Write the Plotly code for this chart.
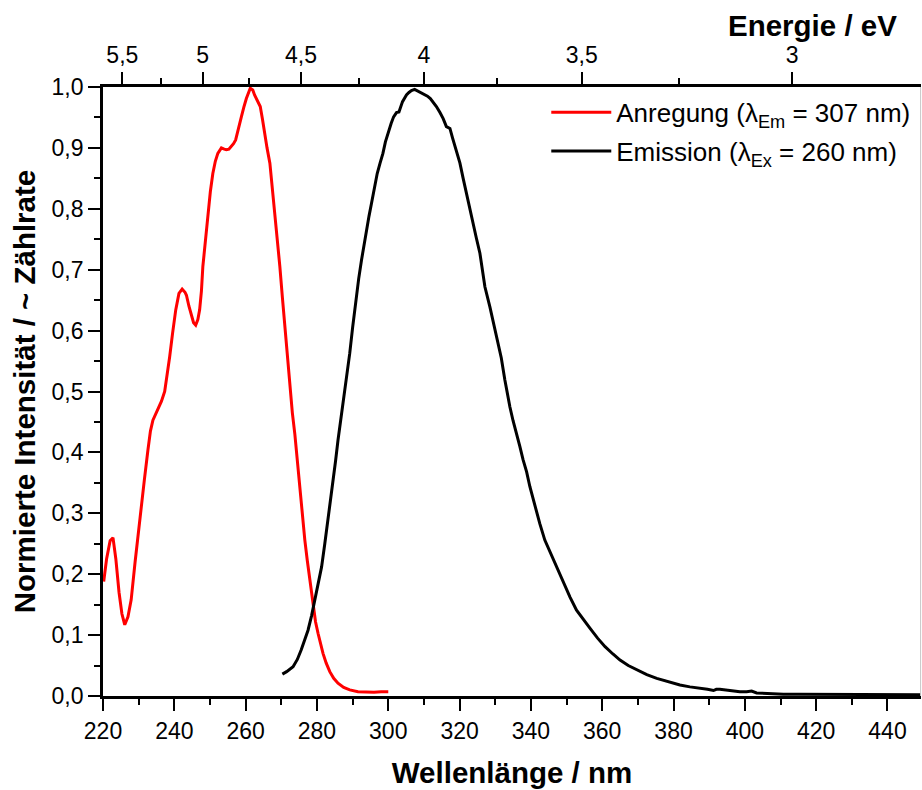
import plotly.graph_objects as go

# ---------------- data ----------------
exc_wl = [220.2, 221.0, 222.0, 222.8, 223.6, 224.5, 225.3, 226.1, 227.0, 227.9, 229.0, 230.0,
          230.7, 231.6, 232.6, 233.3, 234.0, 235.2, 236.4, 237.3, 238.0, 238.7, 239.5, 240.4,
          241.3, 242.2, 243.0, 243.4, 244.1, 244.8, 245.4, 246.0, 246.6, 247.1, 247.6, 248.0,
          248.7, 249.4, 250.1, 250.8, 251.5, 252.2, 253.2, 254.0, 254.6, 255.3, 256.0, 256.6,
          257.2, 258.0, 258.8, 259.5, 260.2, 261.3, 262.0, 262.5, 263.3, 264.1, 264.7, 265.3,
          266.0, 266.8, 267.5, 268.2, 268.9, 269.6, 270.3, 271.0, 271.7, 272.4, 273.1, 273.8,
          274.5, 275.2, 275.9, 276.6, 277.3, 278.0, 278.9, 279.6, 280.3, 281.0, 281.7, 282.6,
          283.6, 284.7, 285.9, 287.5, 289.2, 291.5, 293.9, 296.0, 298.0, 300.0]
exc_int = [0.188, 0.225, 0.255, 0.260, 0.225, 0.170, 0.135, 0.117, 0.130, 0.158, 0.220, 0.275,
           0.305, 0.355, 0.404, 0.435, 0.453, 0.470, 0.484, 0.500, 0.525, 0.557, 0.595, 0.634,
           0.661, 0.668, 0.663, 0.658, 0.640, 0.623, 0.613, 0.609, 0.618, 0.634, 0.665, 0.705,
           0.750, 0.793, 0.828, 0.858, 0.878, 0.891, 0.900, 0.898, 0.897, 0.898, 0.902, 0.907,
           0.913, 0.930, 0.951, 0.967, 0.981, 0.998, 0.995, 0.987, 0.978, 0.968, 0.948, 0.924,
           0.900, 0.875, 0.835, 0.793, 0.750, 0.705, 0.655, 0.606, 0.557, 0.510, 0.465, 0.430,
           0.385, 0.338, 0.295, 0.256, 0.222, 0.190, 0.147, 0.122, 0.103, 0.085, 0.070, 0.054,
           0.040, 0.029, 0.021, 0.014, 0.010, 0.007, 0.006, 0.006, 0.007, 0.007]

em_wl = [270.3, 271.5, 273.3, 274.5, 275.6, 276.6, 277.5, 278.5, 279.4, 280.4, 281.3, 282.2,
         283.1, 283.8, 284.5, 285.2, 285.9, 286.9, 287.5, 288.3, 289.2, 290.0, 290.9, 291.7,
         292.5, 293.2, 293.9, 294.6, 295.3, 296.1, 296.9, 297.7, 298.5, 299.2, 300.0, 300.8,
         301.5, 302.3, 303.0, 303.5, 304.0, 304.6, 305.1, 305.8, 306.5, 307.4, 308.1, 308.8,
         309.4, 310.0, 311.0, 311.8, 312.7, 313.5, 314.5, 315.4, 316.3, 317.3, 318.0, 318.7,
         319.4, 320.1, 321.0, 321.9, 322.8, 323.8, 324.7, 325.7, 326.4, 327.1, 328.5, 329.6,
         330.8, 331.7, 332.7, 333.6, 334.1, 335.0, 336.0, 336.9, 337.8, 338.8, 339.7, 341.1,
         342.5, 343.9, 345.1, 346.3, 347.7, 349.1, 351.0, 352.8, 354.7, 356.6, 358.7, 360.8,
         363.0, 365.0, 367.3, 369.7, 372.5, 375.3, 378.5, 381.8, 384.6, 387.4, 389.5, 391.2,
         392.0, 393.0, 395.8, 398.6, 400.5, 401.9, 403.3, 406.5, 409.4, 410.8, 415.0, 420.0,
         425.0, 430.0, 435.0, 440.0, 445.0, 450.0]
em_int = [0.036, 0.040, 0.048, 0.060, 0.076, 0.092, 0.108, 0.132, 0.158, 0.185, 0.212, 0.250,
          0.289, 0.318, 0.349, 0.385, 0.420, 0.464, 0.489, 0.519, 0.563, 0.605, 0.650, 0.685,
          0.716, 0.742, 0.765, 0.788, 0.809, 0.835, 0.858, 0.875, 0.891, 0.910, 0.927, 0.940,
          0.951, 0.958, 0.959, 0.968, 0.976, 0.982, 0.987, 0.991, 0.994, 0.996, 0.994, 0.992,
          0.990, 0.988, 0.985, 0.981, 0.975, 0.968, 0.958, 0.948, 0.935, 0.932, 0.917, 0.902,
          0.889, 0.875, 0.850, 0.825, 0.800, 0.776, 0.752, 0.727, 0.700, 0.672, 0.639, 0.610,
          0.579, 0.555, 0.519, 0.489, 0.475, 0.452, 0.431, 0.410, 0.388, 0.368, 0.344, 0.311,
          0.283, 0.256, 0.240, 0.223, 0.204, 0.185, 0.162, 0.141, 0.125, 0.111, 0.095, 0.081,
          0.069, 0.059, 0.050, 0.043, 0.035, 0.029, 0.023, 0.018, 0.015, 0.013, 0.011, 0.009,
          0.011, 0.011, 0.009, 0.007, 0.007, 0.008, 0.005, 0.004, 0.004, 0.003, 0.003, 0.003,
          0.003, 0.002, 0.002, 0.002, 0.002, 0.002]

energy_major = [5.5, 5.0, 4.5, 4.0, 3.5, 3.0]
energy_major_labels = ["5,5", "5", "4,5", "4", "3,5", "3"]
energy_minor = [5.25, 4.75, 4.25, 3.75, 3.25]
HC = 1239.84  # eV*nm

x_range = [220, 449.4]
y_range = [0, 1.0]

FONT = "Liberation Sans, Arial, sans-serif"
TITLE_SIZE = 29.5

fig = go.Figure()
fig.add_trace(go.Scatter(x=exc_wl, y=exc_int, mode="lines",
                         line=dict(color="#ff0000", width=3),
                         name="Anregung (λ<sub>Em</sub> = 307 nm)",
                         legendgroup="a"))
fig.add_trace(go.Scatter(x=em_wl, y=em_int, mode="lines",
                         line=dict(color="#000000", width=3),
                         name="Emission (λ<sub>Ex</sub> = 260 nm)",
                         legendgroup="b"))
# invisible trace so that the top (energy) axis is drawn
fig.add_trace(go.Scatter(x=em_wl, y=em_int, mode="lines", xaxis="x2", yaxis="y",
                         line=dict(color="rgba(0,0,0,0)", width=0), opacity=0,
                         showlegend=False, hoverinfo="skip"))

axis_common = dict(showline=True, linecolor="black", linewidth=2.8,
                   ticks="outside", tickcolor="black", tickwidth=2.4, ticklen=12,
                   showgrid=False, zeroline=False,
                   tickfont=dict(family=FONT, size=23, color="black"))
minor_common = dict(ticks="outside", ticklen=6, tickwidth=2.4, tickcolor="black", showgrid=False)

fig.update_layout(
    width=922, height=790,
    margin=dict(l=103, r=1, t=87, b=94),
    paper_bgcolor="white", plot_bgcolor="white",
    separators=", ",
    showlegend=True,
    legend=dict(x=0.993, y=0.997, xanchor="right", yanchor="top",
                bgcolor="rgba(0,0,0,0)", borderwidth=0,
                font=dict(family=FONT, size=26, color="black"),
                itemwidth=60, tracegroupgap=2, traceorder="grouped"),
    xaxis=dict(range=x_range, dtick=20, tick0=220,
               minor=dict(dtick=10, **minor_common),
               title=dict(text="Wellenlänge / nm", standoff=20,
                          font=dict(family=FONT, size=TITLE_SIZE, color="black", weight="bold")),
               **axis_common),
    xaxis2=dict(range=x_range, overlaying="x", side="top", anchor="y",
                tickmode="array", tickvals=[HC / e for e in energy_major],
                ticktext=energy_major_labels,
                minor=dict(tickmode="array", tickvals=[HC / e for e in energy_minor], **minor_common),
                **axis_common),
    yaxis=dict(range=y_range, dtick=0.1, tick0=0, tickformat=".1f",
               minor=dict(dtick=0.05, **minor_common),
               title=dict(text="Normierte Intensität / ~ Zählrate", standoff=8,
                          font=dict(family=FONT, size=TITLE_SIZE, color="black", weight="bold")),
               **axis_common),
)

# Top axis title
fig.add_annotation(text="<b>Energie / eV</b>", xref="paper", yref="paper",
                   x=1.0, y=1.0, xanchor="right", yanchor="bottom", yshift=43, xshift=-22,
                   showarrow=False, font=dict(family=FONT, size=TITLE_SIZE, color="black"))

# faint right frame edge
fig.add_shape(type="line", xref="paper", yref="paper", x0=0.9995, x1=0.9995, y0=0, y1=1,
              line=dict(color="#c8c8c8", width=1))

fig.write_html("out.html", config={"displayModeBar": False},
               post_script="document.body.style.margin='0px';")
